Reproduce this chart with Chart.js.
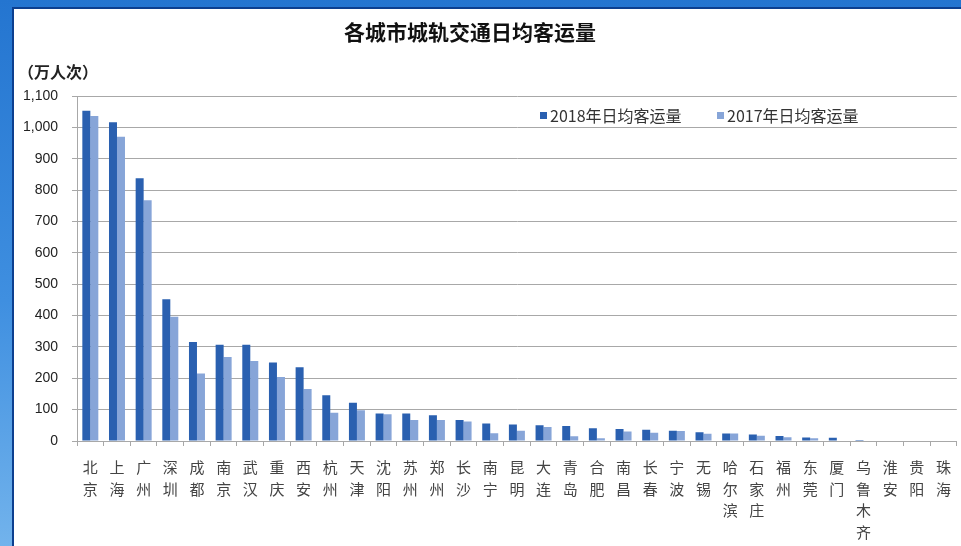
<!DOCTYPE html>
<html>
<head>
<meta charset="utf-8">
<script src="https://cdn.jsdelivr.net/npm/chart.js@4"></script>
<style>
  html, body { margin: 0; padding: 0; }
  body {
    width: 961px; height: 546px; overflow: hidden; position: relative;
    background: linear-gradient(to bottom, #2475d0 0%, #3f8fe0 55%, #72b3ec 100%);
  }
  #panel {
    position: absolute; left: 12px; top: 7px; right: 0; bottom: 0;
    background: #fff;
    border-top: 2px solid #0c3f8f;
    border-left: 2px solid #0c3f8f;
  }
  #chart { position: absolute; left: 0; top: 0; }
</style>
</head>
<body>
<div id="panel"></div>
<canvas id="chart" width="961" height="546"></canvas>
<script>
const cities = ['北京','上海','广州','深圳','成都','南京','武汉','重庆','西安','杭州','天津','沈阳','苏州','郑州','长沙','南宁','昆明','大连','青岛','合肥','南昌','长春','宁波','无锡','哈尔滨','石家庄','福州','东莞','厦门','乌鲁木齐','淮安','贵阳','珠海'];
const riders2018 = [1053,1016,838,452,316,307,307,250,235,146,122,88,88,82,67,56,53,50,48,41,38,36,33,28,24,21,16,11,10,3,0,0,0];
const riders2017 = [1036,970,768,396,215,268,255,204,166,90,98,85,67,67,62,25,33,45,15,9,30,26,32,23,24,17,12,9,0,0,0,0,0];
const yTicks = [0,100,200,300,400,500,600,700,800,900,1000,1100];

const titleText = '各城市城轨交通日均客运量';
const unitText = '（万人次）';
const color2018 = '#2a60b0';
const color2017 = '#87a5d8';
const gridColor = '#a8a8a8';

// city names are written top to bottom, one character per line
const labels = cities.map(c => c.split(''));

const extraText = {
  id: 'extraText',
  afterDraw(chart) {
    const ctx = chart.ctx;
    ctx.save();
    ctx.fillStyle = '#111';
    ctx.font = 'bold 21px "Noto Sans CJK SC"';
    ctx.textAlign = 'center';
    ctx.textBaseline = 'middle';
    ctx.fillText(titleText, 470, 32);

    ctx.font = 'bold 16px "Noto Sans CJK SC"';
    ctx.textAlign = 'left';
    ctx.fillStyle = '#222';
    ctx.fillText(unitText, 18, 72);

    // legend inside the plot
    ctx.font = '16px "Noto Sans CJK SC"';
    let x = 540;
    chart.data.datasets.forEach(ds => {
      ctx.fillStyle = ds.backgroundColor;
      ctx.fillRect(x, 112, 7, 7);
      ctx.fillStyle = '#333';
      ctx.fillText(ds.label, x + 10, 116);
      x += 177;
    });
    ctx.restore();
  }
};

new Chart(document.getElementById('chart'), {
  type: 'bar',
  data: {
    labels: labels,
    datasets: [
      { label: '2018年日均客运量', data: riders2018, backgroundColor: color2018 },
      { label: '2017年日均客运量', data: riders2017, backgroundColor: color2017 }
    ]
  },
  options: {
    responsive: false,
    animation: false,
    layout: { padding: { top: 96, left: 0, right: 2, bottom: 0 } },
    datasets: { bar: { categoryPercentage: 0.6, barPercentage: 1.0 } },
    plugins: {
      legend: { display: false },
      title: { display: false },
      tooltip: { enabled: false }
    },
    scales: {
      x: {
        grid: { display: true, drawOnChartArea: false, tickLength: 5, color: gridColor },
        border: { color: gridColor },
        ticks: {
          autoSkip: false, maxRotation: 0, minRotation: 0, padding: 10,
          color: '#444',
          font: { family: '"Noto Sans CJK SC"', size: 15, lineHeight: 1.46 }
        },
        afterFit(s) { s.height = 105; }
      },
      y: {
        min: 0, max: 1100,
        afterBuildTicks(s) { s.ticks = yTicks.map(v => ({ value: v })); },
        grid: { color: gridColor, tickLength: 5 },
        border: { color: gridColor },
        ticks: {
          padding: 14, color: '#222',
          font: { family: '"Liberation Sans"', size: 14 },
          callback: v => v.toLocaleString('en-US')
        },
        afterFit(s) { s.width = 77; }
      }
    }
  },
  plugins: [extraText]
});
</script>
</body>
</html>
